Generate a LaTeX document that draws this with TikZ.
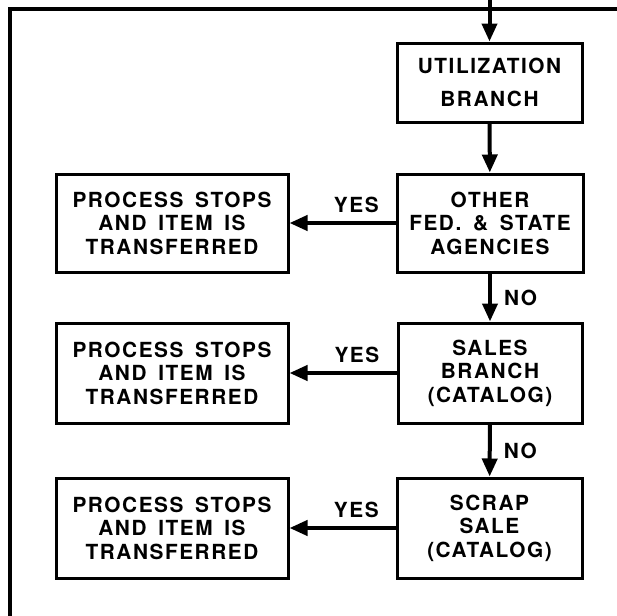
\documentclass[tikz,border=0pt]{standalone}
\usepackage{fontspec}
\setmainfont{TeX Gyre Heros}[LetterSpace=7.5, WordSpace=1.6]
\usetikzlibrary{arrows.meta,positioning}

\begin{document}
\begin{tikzpicture}[x=0.5pt,y=-0.5pt,
        stepbox/.style={draw, line width=1.5pt, align=center, inner sep=0pt,
                font=\bfseries\fontsize{10.4}{11.75}\selectfont},
        flow/.style={line width=2pt, -{Triangle[length=9pt,width=7.5pt]}},
        lbl/.style={inner sep=0pt, font=\bfseries\fontsize{10.4}{11.75}\selectfont}]
        \useasboundingbox (0,0) rectangle (617,616);
        % outer frame (left and top side only)
        \draw[line width=2.3pt] (10,616) -- (10,9) -- (617,9);
        
        \node[stepbox, minimum width=92.5pt, minimum height=39.5pt,
                font=\bfseries\fontsize{10.4}{16.5}\selectfont] (util) at (489.5,82.5) {UTILIZATION\\BRANCH};
        \node[stepbox, minimum width=93pt, minimum height=49pt] (other) at (490,223) {OTHER\\FED. \& STATE\\AGENCIES};
        \node[stepbox, minimum width=92pt, minimum height=50pt] (sales) at (490,373) {SALES\\BRANCH\\(CATALOG)};
        \node[stepbox, minimum width=92.5pt, minimum height=50pt] (scrap) at (489.5,528) {SCRAP\\SALE\\(CATALOG)};
        
        \node[stepbox, minimum width=116pt, minimum height=49pt] (stop1) at (172,223) {PROCESS STOPS\\AND ITEM IS\\TRANSFERRED};
        \node[stepbox, minimum width=116pt, minimum height=50pt] (stop2) at (172,373) {PROCESS STOPS\\AND ITEM IS\\TRANSFERRED};
        \node[stepbox, minimum width=116pt, minimum height=50pt] (stop3) at (172,528) {PROCESS STOPS\\AND ITEM IS\\TRANSFERRED};
        
        \coordinate (entry) at (489.5,0);
        \draw[flow] (entry) -- (util);
        \draw[flow] (util) -- (other);
        \draw[flow] (other) -- node[lbl, right=6pt] {NO} (sales);
        \draw[flow] (sales) -- node[lbl, right=6pt] {NO} (scrap);
        
        \draw[flow] (other) -- node[lbl, pos=0.37, above=4pt] {YES} (stop1);
        \draw[flow] (sales) -- node[lbl, pos=0.37, above=4pt] {YES} (stop2);
        \draw[flow] (scrap) -- node[lbl, pos=0.37, above=4pt] {YES} (stop3);
        
        \end{tikzpicture}
\end{document}
